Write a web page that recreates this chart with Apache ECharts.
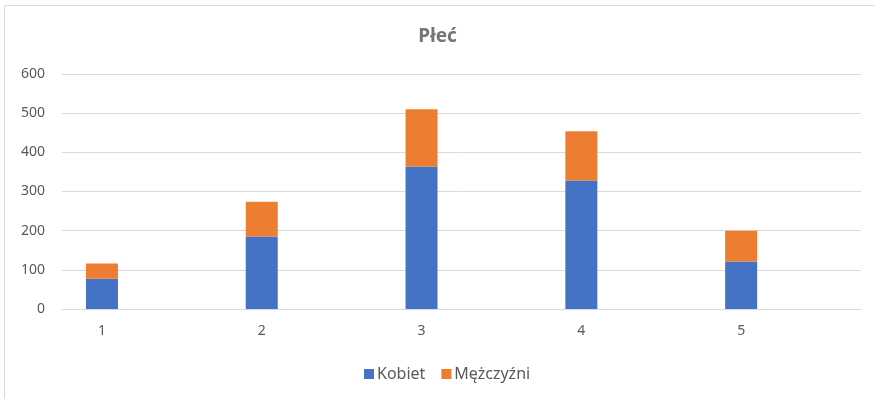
<!DOCTYPE html>
<html>
<head>
<meta charset="utf-8">
<script src="https://cdn.jsdelivr.net/npm/echarts@6/dist/echarts.min.js"></script>
<style>
html,body{margin:0;padding:0;background:#fff;}
#chart{width:875px;height:399px;}
</style>
</head>
<body>
<div id="chart"></div>
<script>
const categories = ['1', '2', '3', '4', '5'];
const kobiet = [77, 185, 364, 328, 121];
const mezczyzni = [39, 89, 146, 126, 79];
const yTicks = [0, 100, 200, 300, 400, 500, 600];

// Each category is followed by an empty half-slot (the category axis runs on half steps)
const slots = [];
categories.forEach(c => { slots.push(c); slots.push(''); });
const spread = arr => {
  const out = [];
  arr.forEach(v => { out.push(v); out.push('-'); });
  return out;
};

const chart = echarts.init(document.getElementById('chart'));
const font = '"Noto Sans", "Open Sans", sans-serif';
chart.setOption({
  animation: false,
  backgroundColor: '#fff',
  title: {
    text: 'Płeć',
    left: 'center',
    top: 22,
    textStyle: { fontFamily: font, fontSize: 19, fontWeight: 'bold', color: '#757575' }
  },
  legend: {
    left: 359,
    top: 361,
    itemWidth: 10,
    itemHeight: 10,
    itemGap: 16,
    icon: 'rect',
    textStyle: { fontFamily: font, fontSize: 16, color: '#595959', padding: [0, 0, 0, -2] },
    data: ['Kobiet', 'Mężczyźni']
  },
  grid: { left: 62, right: 14, top: 74, bottom: 90 },
  xAxis: {
    type: 'category',
    data: slots,
    boundaryGap: true,
    axisLine: { show: true, lineStyle: { color: '#d9d9d9' } },
    axisTick: { show: false },
    splitLine: { show: false },
    axisLabel: {
      interval: 0,
      margin: 15,
      fontFamily: font, fontSize: 14, color: '#595959'
    }
  },
  yAxis: {
    type: 'value',
    min: yTicks[0],
    max: yTicks[yTicks.length - 1],
    interval: 100,
    axisLine: { show: false },
    axisTick: { show: false },
    splitLine: { lineStyle: { color: '#d9d9d9' } },
    axisLabel: { margin: 17, fontFamily: font, fontSize: 14, color: '#595959' }
  },
  graphic: [
    { type: 'line', shape: { x1: 4.5, y1: 5.5, x2: 875, y2: 5.5 }, style: { stroke: '#d9d9d9', lineWidth: 1 } },
    { type: 'line', shape: { x1: 4.5, y1: 5.5, x2: 4.5, y2: 399 }, style: { stroke: '#d9d9d9', lineWidth: 1 } }
  ],
  series: [
    {
      name: 'Kobiet', type: 'bar', stack: 'total', barWidth: 32,
      itemStyle: { color: '#4472C4' },
      data: spread(kobiet)
    },
    {
      name: 'Mężczyźni', type: 'bar', stack: 'total', barWidth: 32,
      itemStyle: { color: '#ED7D31' },
      data: spread(mezczyzni)
    }
  ]
});
</script>
</body>
</html>
